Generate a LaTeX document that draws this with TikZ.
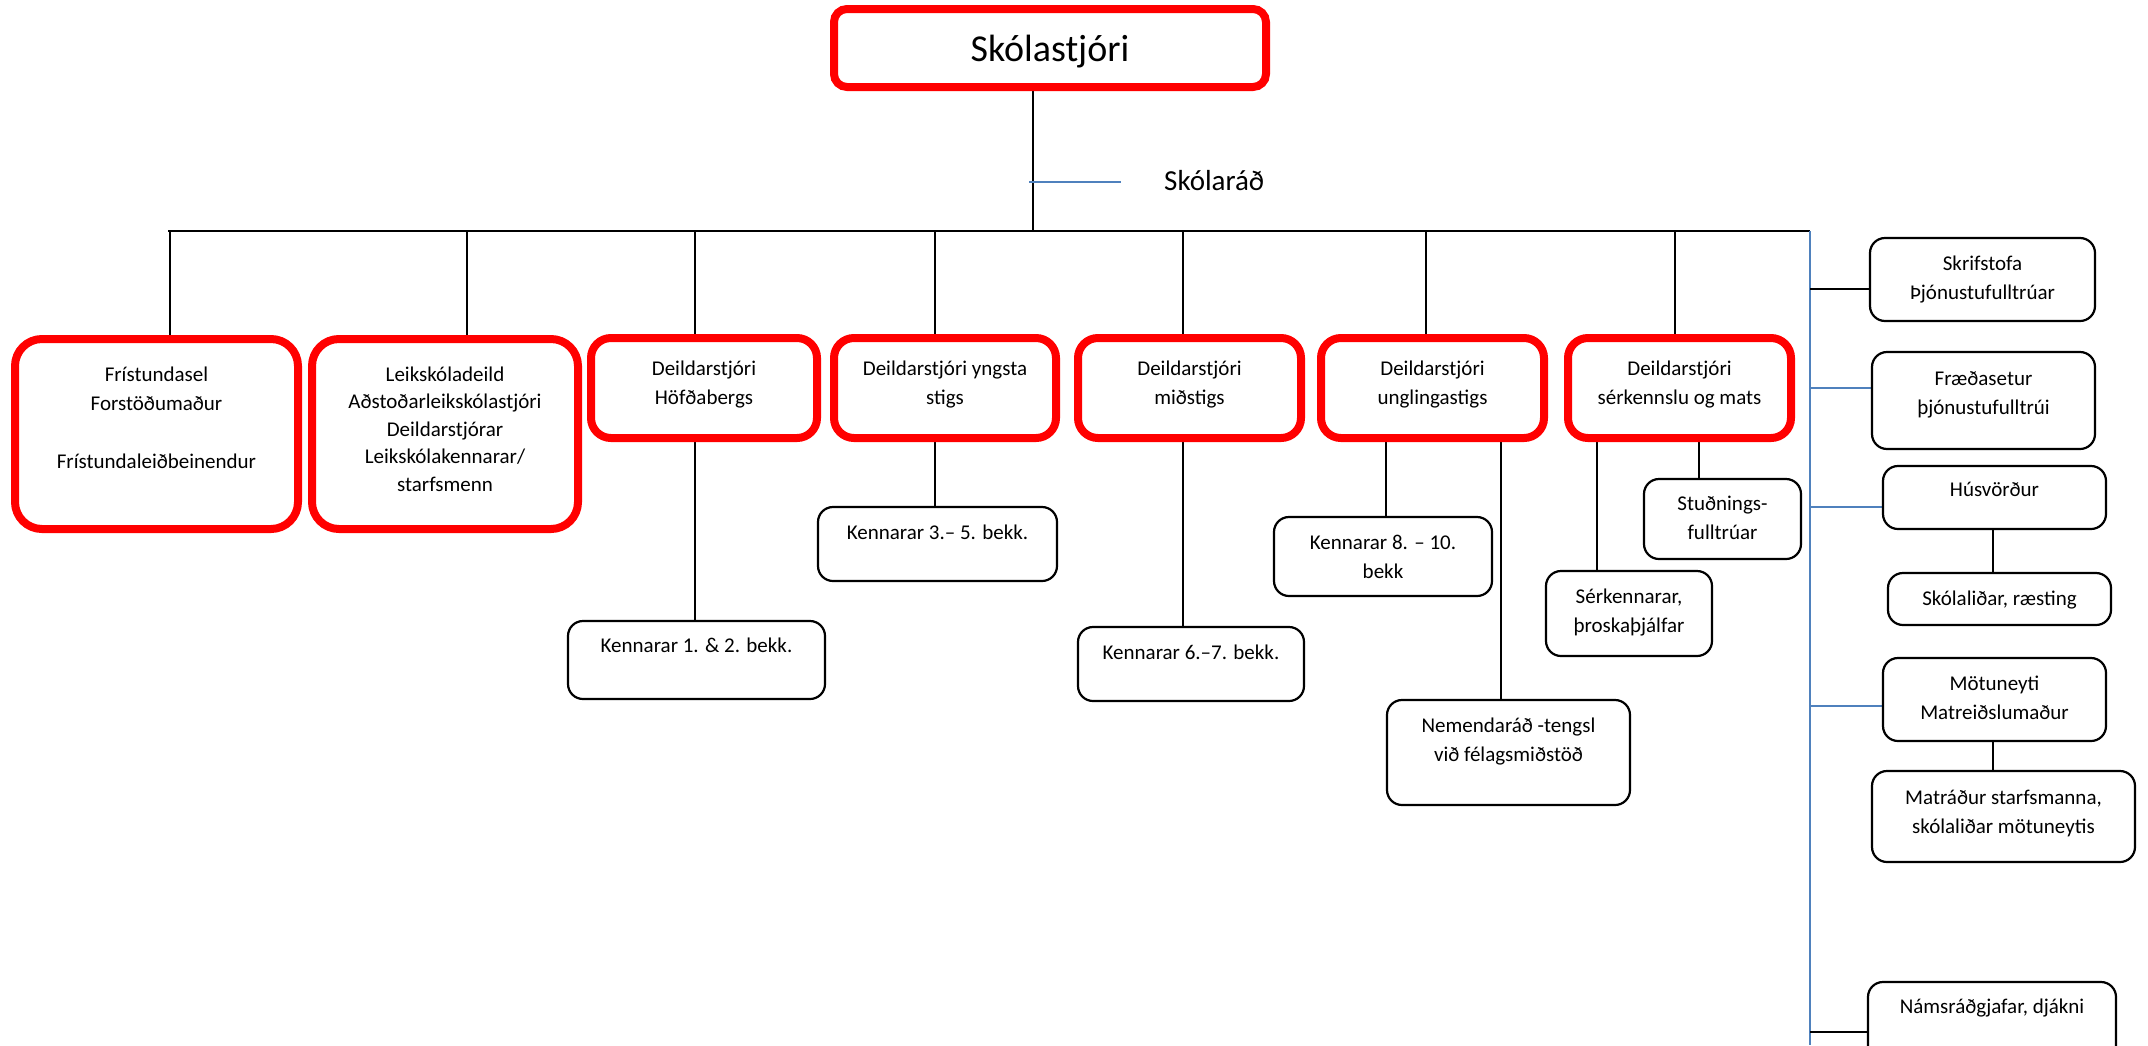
\documentclass[tikz,border=0pt]{standalone}
\usepackage{fontspec}
\setmainfont{Carlito}
\usetikzlibrary{calc}
\definecolor{cred}{RGB}{255,0,0}
\definecolor{cblue}{RGB}{79,129,189}
\pgfdeclarelayer{bg}
\pgfsetlayers{bg,main}
\newcommand\bxt[5]{\parbox[c][#2][t]{#1}{\centering\fontsize{21pt}{#4}\selectfont\vspace*{#3}\rule{0pt}{17pt}#5\par}}
\begin{document}
\begin{tikzpicture}[x=1pt,y=-1pt,
  redbox/.style={draw=cred, fill=white, line width=8pt, rounded corners=20pt, inner sep=0pt, outer sep=0pt, anchor=north west},
  blkbox/.style={draw=black, fill=white, line width=2.2pt, rounded corners=15pt, inner sep=0pt, outer sep=0pt, anchor=north west},
  conn/.style={draw=black, line width=2pt},
  bconn/.style={draw=cblue, line width=2.5pt}]
\useasboundingbox (0,0) rectangle (2148,1045);
% top
\node[redbox, rounded corners=13pt] (top) at (834,9) {\parbox[c][78pt][t]{432pt}{\centering\fontsize{38pt}{46pt}\selectfont\vspace*{21pt}\rule{0pt}{31pt}Skólastjóri\par}};
\node[anchor=base west, inner sep=0pt, font=\fontsize{29pt}{35pt}\selectfont] (srt) at (1164,190) {Skólaráð};
% level 1
\node[redbox, rounded corners=27pt] (fri) at (15,339) {\bxt{283pt}{190pt}{25pt}{29pt}{Frístundasel\\Forstöðumaður\\\mbox{}\\Frístundaleiðbeinendur}};
\node[redbox, rounded corners=27pt] (leik) at (312,339) {\bxt{266pt}{190pt}{25pt}{27.5pt}{Leikskóladeild\\Aðstoðarleikskólastjóri\\Deildarstjórar\\Leikskólakennarar/\\starfsmenn}};
\node[redbox] (hof) at (591,338) {\bxt{226pt}{100pt}{20pt}{29pt}{Deildarstjóri\\Höfðabergs}};
\node[redbox] (yng) at (834,338) {\bxt{222pt}{100pt}{20pt}{29pt}{Deildarstjóri yngsta\\stigs}};
\node[redbox] (mid) at (1078,338) {\bxt{223pt}{100pt}{20pt}{29pt}{Deildarstjóri\\miðstigs}};
\node[redbox] (ung) at (1321,338) {\bxt{223pt}{100pt}{20pt}{29pt}{Deildarstjóri\\unglingastigs}};
\node[redbox] (ser) at (1568,338) {\bxt{223pt}{100pt}{20pt}{29pt}{Deildarstjóri\\sérkennslu og mats}};
% sub boxes
\node[blkbox] (k12) at (568,621) {\bxt{257pt}{78pt}{14pt}{29.5pt}{Kennarar 1. \& 2. bekk.}};
\node[blkbox] (k35) at (818,507) {\bxt{239pt}{74pt}{15pt}{29.5pt}{Kennarar 3.– 5. bekk.}};
\node[blkbox] (k67) at (1078,627) {\bxt{226pt}{74pt}{15pt}{29.5pt}{Kennarar 6.–7. bekk.}};
\node[blkbox] (k810) at (1274,517) {\bxt{218pt}{79pt}{15pt}{29.5pt}{Kennarar 8. – 10.\\bekk}};
\node[blkbox] (nem) at (1387,700) {\bxt{243pt}{105pt}{15pt}{29.5pt}{Nemendaráð -tengsl\\við félagsmiðstöð}};
\node[blkbox] (stud) at (1644,479) {\bxt{157pt}{80pt}{14pt}{29.5pt}{Stuðnings-\\fulltrúar}};
\node[blkbox] (serk) at (1546,571) {\bxt{166pt}{85pt}{15pt}{29.5pt}{Sérkennarar,\\þroskaþjálfar}};
% right column
\node[blkbox] (skrif) at (1870,238) {\bxt{225pt}{83pt}{15pt}{29.5pt}{Skrifstofa\\Þjónustufulltrúar}};
\node[blkbox] (fraed) at (1872,352) {\bxt{223pt}{97pt}{16pt}{29.5pt}{Fræðasetur\\þjónustufulltrúi}};
\node[blkbox] (hus) at (1883,466) {\bxt{223pt}{63pt}{13pt}{29.5pt}{Húsvörður}};
\node[blkbox] (skol) at (1888,573) {\bxt{223pt}{52pt}{15pt}{29.5pt}{Skólaliðar, ræsting}};
\node[blkbox] (mot) at (1883,658) {\bxt{223pt}{83pt}{15pt}{29.5pt}{Mötuneyti\\Matreiðslumaður}};
\node[blkbox] (matr) at (1872,771) {\bxt{263pt}{91pt}{16pt}{29.5pt}{Matráður starfsmanna,\\skólaliðar mötuneytis}};
\node[blkbox] (nams) at (1868,982) {\bxt{248pt}{98pt}{14pt}{29.5pt}{Námsráðgjafar, djákni}};
% connectors
\begin{pgfonlayer}{bg}
\fill[white] (0,0) rectangle (2148,1045);
\coordinate (busL) at (168,231);
\coordinate (busR) at (1810,231);
\draw[conn] (busL) -- (busR);
\coordinate (t1) at (1033,231);
\draw[conn] (t1 |- top.south) -- (t1);
\coordinate (sr1) at (1029,182);
\coordinate (sr2) at (1121,182);
\draw[bconn] (sr1) -- (sr2);
\foreach \xx/\nn in {170/fri,467/leik,695/hof,935/yng,1183/mid,1426/ung,1675/ser}{
  \coordinate (dd) at (\xx,231);
  \draw[conn] (dd) -- (dd |- \nn.north);
}
\foreach \xx/\aa/\bb in {695/hof/k12,935/yng/k35,1183/mid/k67,1386/ung/k810,1501/ung/nem,1597/ser/serk,1699/ser/stud,1993/hus/skol,1993/mot/matr}{
  \coordinate (ss) at (\xx,0);
  \draw[conn] (ss |- \aa.south) -- (ss |- \bb.north);
}
\coordinate (vb) at (1810,1045);
\draw[bconn] (busR) -- (vb);
\foreach \yy/\nn/\st in {289/skrif/conn,388/fraed/bconn,507/hus/bconn,706/mot/bconn,1032/nams/conn}{
  \coordinate (rr) at (1810,\yy);
  \draw[\st] (rr) -- (rr -| \nn.west);
}
\end{pgfonlayer}
\end{tikzpicture}
\end{document}
